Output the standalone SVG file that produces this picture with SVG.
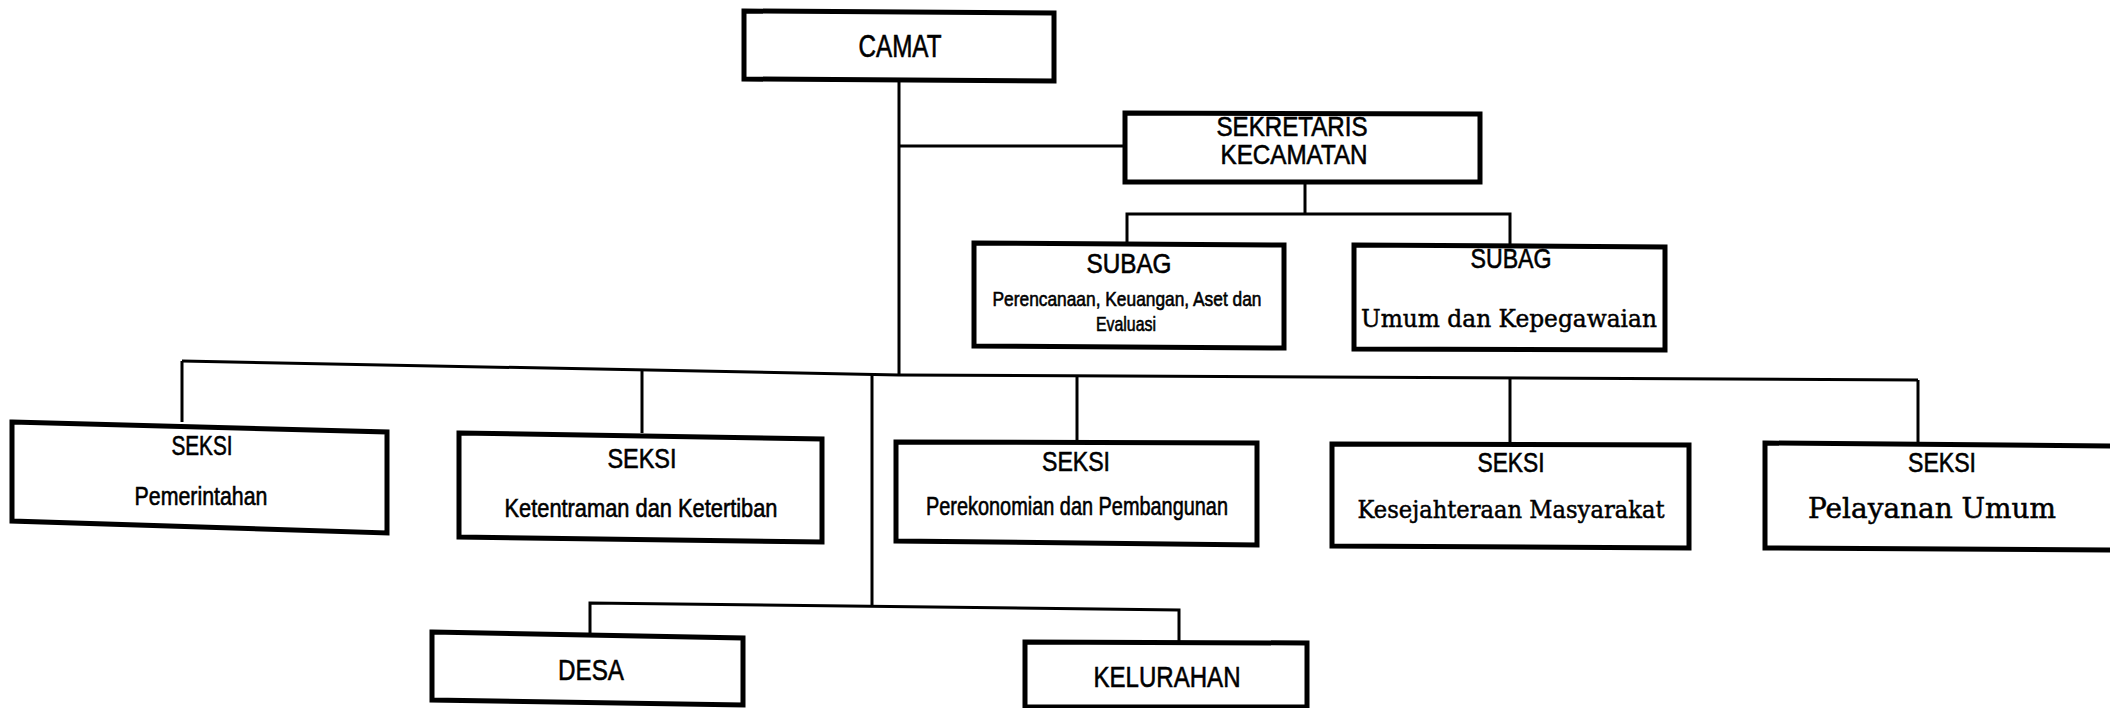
<svg xmlns="http://www.w3.org/2000/svg" width="2110" height="708" viewBox="0 0 2110 708">
<style>
.box{fill:#fff;stroke:#000;stroke-width:5;stroke-linejoin:miter}
.ln{fill:none;stroke:#000;stroke-width:3}
.s{font-family:"Liberation Sans",Arial,sans-serif;fill:#000;stroke:#000;stroke-width:0.6;text-anchor:middle}
.r{font-family:"DejaVu Serif","Liberation Serif",serif;fill:#000;stroke:#000;stroke-width:0.5;text-anchor:middle}
</style>
<rect x="0" y="0" width="2110" height="708" fill="#fff"/>
<g id="connectors">
<path class="ln" d="M899,81 V375"/>
<path class="ln" d="M899,146 H1125"/>
<path class="ln" d="M1305,183 V214"/>
<path class="ln" d="M1127,243 V214 H1510 V247"/>
<polyline class="ln" points="182,361 899,375 1918,380"/>
<path class="ln" d="M182,361 V422"/>
<path class="ln" d="M642,370 V433"/>
<path class="ln" d="M1077,376 V442"/>
<path class="ln" d="M1510,378 V444"/>
<path class="ln" d="M1918,380 V443"/>
<path class="ln" d="M872,374 V607"/>
<polyline class="ln" points="590,633 590,603 1179,610 1179,642"/>
</g>
<g id="camat">
<polygon class="box" points="744,11 1054,13 1054,81 744,79"/>
<text class="s" x="900" y="57" font-size="31" textLength="83" lengthAdjust="spacingAndGlyphs">CAMAT</text>
</g>
<g id="sekretaris">
<polygon class="box" points="1125,113 1480,114 1480,182 1125,182"/>
<text class="s" x="1292" y="136" font-size="28" textLength="151" lengthAdjust="spacingAndGlyphs">SEKRETARIS</text>
<text class="s" x="1294" y="164" font-size="28" textLength="147" lengthAdjust="spacingAndGlyphs">KECAMATAN</text>
</g>
<g id="subag-perencanaan">
<polygon class="box" points="974,243 1284,245 1284,348 974,346"/>
<text class="s" x="1129" y="273" font-size="27" textLength="85" lengthAdjust="spacingAndGlyphs">SUBAG</text>
<text class="s" x="1127" y="306" font-size="21" textLength="269" lengthAdjust="spacingAndGlyphs">Perencanaan, Keuangan, Aset dan</text>
<text class="s" x="1126" y="331" font-size="21" textLength="60" lengthAdjust="spacingAndGlyphs">Evaluasi</text>
</g>
<g id="subag-umum">
<polygon class="box" points="1354,245 1665,247 1665,350 1354,349"/>
<text class="s" x="1511" y="268" font-size="27" textLength="81" lengthAdjust="spacingAndGlyphs">SUBAG</text>
<text class="r" x="1509" y="327" font-size="25" textLength="296" lengthAdjust="spacingAndGlyphs">Umum dan Kepegawaian</text>
</g>
<g id="seksi-pemerintahan">
<polygon class="box" points="12,422 387,432 387,533 12,521"/>
<text class="s" x="202" y="455" font-size="27" textLength="61" lengthAdjust="spacingAndGlyphs">SEKSI</text>
<text class="s" x="201" y="505" font-size="26" textLength="133" lengthAdjust="spacingAndGlyphs">Pemerintahan</text>
</g>
<g id="seksi-ketentraman">
<polygon class="box" points="459,433 822,439 822,542 459,537"/>
<text class="s" x="642" y="468" font-size="28" textLength="69" lengthAdjust="spacingAndGlyphs">SEKSI</text>
<text class="s" x="641" y="517" font-size="26" textLength="273" lengthAdjust="spacingAndGlyphs">Ketentraman dan Ketertiban</text>
</g>
<g id="seksi-perekonomian">
<polygon class="box" points="896,442 1257,443 1257,545 896,541"/>
<text class="s" x="1076" y="471" font-size="28" textLength="68" lengthAdjust="spacingAndGlyphs">SEKSI</text>
<text class="s" x="1077" y="515" font-size="26" textLength="302" lengthAdjust="spacingAndGlyphs">Perekonomian dan Pembangunan</text>
</g>
<g id="seksi-kesejahteraan">
<polygon class="box" points="1332,444 1689,445 1689,548 1332,546"/>
<text class="s" x="1511" y="472" font-size="28" textLength="67" lengthAdjust="spacingAndGlyphs">SEKSI</text>
<text class="r" x="1511" y="518" font-size="25" textLength="307" lengthAdjust="spacingAndGlyphs">Kesejahteraan Masyarakat</text>
</g>
<g id="seksi-pelayanan">
<polygon class="box" points="1765,443 2116,446 2116,550 1765,548"/>
<text class="s" x="1942" y="472" font-size="28" textLength="68" lengthAdjust="spacingAndGlyphs">SEKSI</text>
<text class="r" x="1932" y="518" font-size="27" textLength="248" lengthAdjust="spacingAndGlyphs">Pelayanan Umum</text>
</g>
<g id="desa">
<polygon class="box" points="432,632 743,638 743,705 432,700"/>
<text class="s" x="591" y="680" font-size="30" textLength="66" lengthAdjust="spacingAndGlyphs">DESA</text>
</g>
<g id="kelurahan">
<polygon class="box" points="1025,642 1307,643 1307,707 1025,707"/>
<text class="s" x="1167" y="687" font-size="30" textLength="147" lengthAdjust="spacingAndGlyphs">KELURAHAN</text>
</g>
</svg>
